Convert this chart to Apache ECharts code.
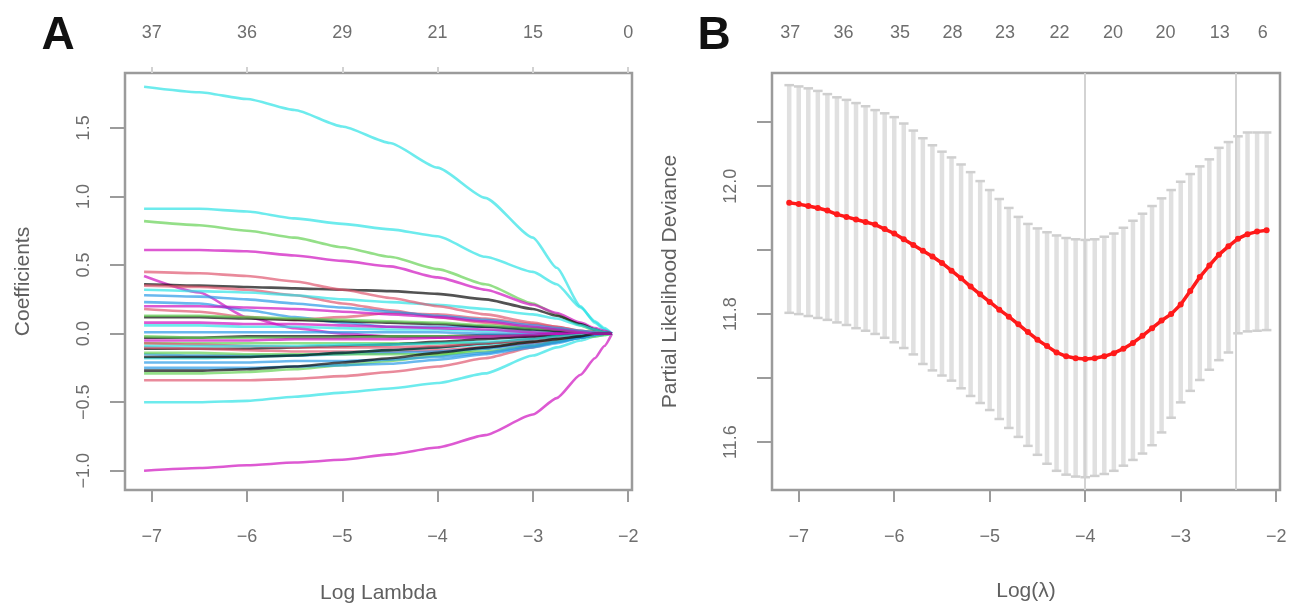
<!DOCTYPE html>
<html>
<head>
<meta charset="utf-8">
<script src="https://cdn.jsdelivr.net/npm/echarts@6/dist/echarts.min.js"></script>
<style>
  html, body { margin: 0; padding: 0; background: #ffffff; }
  #chart { width: 1297px; height: 611px; }
</style>
</head>
<body>
<div id="chart"></div>
<script>
// ---------- Panel A: lasso coefficient paths ----------
const pathLogLambda = [-7.08, -6.5, -6.0, -5.5, -5.0, -4.5, -4.0, -3.5, -3.0, -2.75, -2.5, -2.35, -2.25, -2.17];

const pathColors = [
  '#28E2E5', '#28E2E5', '#61D04F', '#CD0BBC', '#CD0BBC', '#28E2E5', '#DF536B', '#61D04F',
  '#CD0BBC', '#000000', '#DF536B', '#28E2E5', '#2297E6', '#DF536B', '#28E2E5', '#000000',
  '#61D04F', '#61D04F', '#000000', '#DF536B', '#2297E6', '#61D04F', '#2297E6', '#2297E6',
  '#2297E6', '#CD0BBC', '#000000', '#DF536B', '#61D04F', '#28E2E5', '#CD0BBC', '#000000',
  '#DF536B', '#2297E6', '#28E2E5', '#000000', '#CD0BBC'
];

const coefPaths = [
  [1.80, 1.76, 1.71, 1.63, 1.51, 1.39, 1.21, 0.99, 0.70, 0.48, 0.20, 0.08, 0.03, 0],
  [0.91, 0.91, 0.89, 0.84, 0.80, 0.76, 0.71, 0.56, 0.45, 0.36, 0.19, 0.09, 0.04, 0],
  [0.82, 0.79, 0.75, 0.70, 0.63, 0.56, 0.47, 0.36, 0.22, 0.14, 0.06, 0.02, 0.01, 0],
  [0.61, 0.61, 0.60, 0.57, 0.53, 0.49, 0.41, 0.32, 0.21, 0.15, 0.08, 0.04, 0.02, 0],
  [-1.00, -0.98, -0.96, -0.94, -0.92, -0.88, -0.83, -0.74, -0.59, -0.47, -0.30, -0.18, -0.09, 0],
  [-0.50, -0.50, -0.49, -0.46, -0.43, -0.40, -0.36, -0.29, -0.16, -0.10, -0.05, -0.02, -0.01, 0],
  [-0.34, -0.34, -0.34, -0.33, -0.31, -0.28, -0.24, -0.18, -0.10, -0.06, -0.02, -0.01, 0, 0],
  [-0.29, -0.29, -0.28, -0.26, -0.23, -0.20, -0.16, -0.11, -0.05, -0.03, -0.01, 0, 0, 0],
  [0.42, 0.30, 0.12, 0.04, 0.00, -0.02, -0.03, -0.03, -0.02, -0.01, 0, 0, 0, 0],
  [0.36, 0.35, 0.34, 0.33, 0.32, 0.31, 0.29, 0.25, 0.18, 0.13, 0.07, 0.03, 0.01, 0],
  [0.35, 0.34, 0.32, 0.28, 0.22, 0.17, 0.12, 0.08, 0.04, 0.02, 0.01, 0, 0, 0],
  [0.32, 0.31, 0.30, 0.28, 0.25, 0.23, 0.21, 0.18, 0.14, 0.11, 0.06, 0.03, 0.01, 0],
  [0.23, 0.22, 0.17, 0.12, 0.08, 0.05, 0.05, 0.05, 0.04, 0.03, 0.01, 0, 0, 0],
  [0.18, 0.16, 0.12, 0.10, 0.12, 0.15, 0.14, 0.11, 0.07, 0.05, 0.02, 0.01, 0, 0],
  [0.06, 0.06, 0.05, 0.05, 0.04, 0.03, 0.03, 0.02, 0.02, 0.01, 0.01, 0, 0, 0],
  [-0.03, -0.03, -0.02, -0.02, -0.02, -0.02, -0.02, -0.01, -0.01, 0, 0, 0, 0, 0],
  [-0.02, -0.03, -0.03, -0.03, -0.03, -0.02, -0.02, -0.02, -0.01, -0.01, 0, 0, 0, 0],
  [-0.07, -0.07, -0.07, -0.07, -0.07, -0.07, -0.07, -0.07, -0.06, -0.05, -0.03, -0.02, -0.01, 0],
  [-0.11, -0.11, -0.11, -0.10, -0.09, -0.08, -0.06, -0.04, -0.02, -0.01, 0, 0, 0, 0],
  [-0.10, -0.11, -0.12, -0.13, -0.13, -0.13, -0.12, -0.10, -0.07, -0.05, -0.03, -0.01, 0, 0],
  [-0.15, -0.16, -0.16, -0.16, -0.15, -0.14, -0.13, -0.11, -0.08, -0.06, -0.03, -0.01, 0, 0],
  [-0.14, -0.14, -0.15, -0.15, -0.15, -0.15, -0.15, -0.13, -0.09, -0.06, -0.03, -0.01, 0, 0],
  [-0.21, -0.21, -0.21, -0.20, -0.20, -0.19, -0.17, -0.14, -0.09, -0.06, -0.03, -0.01, 0, 0],
  [-0.25, -0.25, -0.25, -0.24, -0.23, -0.22, -0.19, -0.15, -0.10, -0.07, -0.03, -0.01, 0, 0],
  [0.01, 0.01, 0.01, 0.01, 0.01, 0.01, 0.01, 0, 0, 0, 0, 0, 0, 0],
  [0.08, 0.08, 0.07, 0.07, 0.06, 0.05, 0.04, 0.03, 0.01, 0, 0, 0, 0, 0],
  [0.12, 0.12, 0.11, 0.10, 0.09, 0.08, 0.07, 0.05, 0.03, 0.02, 0.01, 0, 0, 0],
  [0.45, 0.44, 0.42, 0.38, 0.32, 0.26, 0.20, 0.14, 0.08, 0.05, 0.02, 0.01, 0, 0],
  [0.13, 0.13, 0.12, 0.11, 0.10, 0.09, 0.08, 0.06, 0.04, 0.03, 0.01, 0, 0, 0],
  [-0.18, -0.18, -0.17, -0.16, -0.14, -0.12, -0.10, -0.08, -0.05, -0.03, -0.01, 0, 0, 0],
  [-0.05, -0.05, -0.05, -0.04, -0.04, -0.04, -0.03, -0.02, -0.01, 0, 0, 0, 0, 0],
  [-0.17, -0.17, -0.17, -0.16, -0.14, -0.12, -0.10, -0.07, -0.04, -0.02, -0.01, 0, 0, 0],
  [-0.07, -0.08, -0.09, -0.10, -0.10, -0.10, -0.09, -0.07, -0.05, -0.03, -0.01, 0, 0, 0],
  [0.28, 0.27, 0.25, 0.22, 0.19, 0.16, 0.13, 0.10, 0.06, 0.04, 0.02, 0.01, 0, 0],
  [-0.09, -0.09, -0.09, -0.09, -0.08, -0.08, -0.07, -0.06, -0.04, -0.02, -0.01, 0, 0, 0],
  [-0.27, -0.27, -0.26, -0.24, -0.21, -0.18, -0.14, -0.10, -0.06, -0.04, -0.02, 0, 0, 0],
  [0.20, 0.20, 0.19, 0.18, 0.16, 0.14, 0.12, 0.09, 0.05, 0.03, 0.01, 0, 0, 0]
];

const xTicks = [-7, -6, -5, -4, -3, -2];
const dfLabelsA = ['37', '36', '29', '21', '15', '0'];
const coefTicks = [-1.0, -0.5, 0.0, 0.5, 1.0, 1.5];

// ---------- Panel B: cross-validation curve ----------
const cvLogLambda = [
  -7.1, -7.0, -6.9, -6.8, -6.7, -6.6, -6.5, -6.4, -6.3, -6.2,
  -6.1, -6.0, -5.9, -5.8, -5.7, -5.6, -5.5, -5.4, -5.3, -5.2,
  -5.1, -5.0, -4.9, -4.8, -4.7, -4.6, -4.5, -4.4, -4.3, -4.2,
  -4.1, -4.0, -3.9, -3.8, -3.7, -3.6, -3.5, -3.4, -3.3, -3.2,
  -3.1, -3.0, -2.9, -2.8, -2.7, -2.6, -2.5, -2.4, -2.3, -2.2,
  -2.1
];
const cvMean = [
  11.974, 11.972, 11.969, 11.966, 11.962, 11.956, 11.952, 11.948, 11.944, 11.940,
  11.933, 11.926, 11.917, 11.908, 11.899, 11.890, 11.880, 11.868, 11.856, 11.843,
  11.831, 11.819, 11.807, 11.796, 11.784, 11.772, 11.760, 11.750, 11.740, 11.734,
  11.731, 11.730, 11.731, 11.734, 11.739, 11.746, 11.755, 11.766, 11.778, 11.790,
  11.800, 11.815, 11.836, 11.858, 11.876, 11.893, 11.906, 11.918, 11.925, 11.929,
  11.931
];
const cvUpper = [
  12.158, 12.156, 12.153, 12.149, 12.144, 12.139, 12.135, 12.130, 12.125, 12.119,
  12.114, 12.108, 12.098, 12.087, 12.075, 12.064, 12.054, 12.045, 12.034, 12.022,
  12.008, 11.994, 11.980, 11.966, 11.952, 11.941, 11.934, 11.928, 11.923, 11.919,
  11.917, 11.916, 11.917, 11.921, 11.926, 11.935, 11.946, 11.957, 11.969, 11.981,
  11.994, 12.007, 12.019, 12.031, 12.042, 12.060, 12.069, 12.078, 12.084, 12.084,
  12.084
];
const cvLower = [
  11.802, 11.800, 11.797, 11.794, 11.791, 11.787, 11.783, 11.778, 11.774, 11.769,
  11.763, 11.756, 11.747, 11.737, 11.722, 11.712, 11.704, 11.696, 11.684, 11.672,
  11.661, 11.650, 11.636, 11.622, 11.608, 11.594, 11.580, 11.566, 11.555, 11.549,
  11.546, 11.545, 11.547, 11.550, 11.555, 11.563, 11.572, 11.582, 11.595, 11.615,
  11.638, 11.662, 11.680, 11.697, 11.713, 11.728, 11.740, 11.770, 11.773, 11.774,
  11.775
];
const lambdaMin = -4.0;
const lambda1se = -2.42;
const nzeroPos = [-7.09, -6.53, -5.94, -5.39, -4.84, -4.27, -3.71, -3.16, -2.59, -2.14];
const nzeroLabels = ['37', '36', '35', '28', '23', '22', '20', '20', '13', '6'];
const devTicks = [11.6, 11.7, 11.8, 11.9, 12.0, 12.1];
const devLabels = [11.6, 11.8, 12.0];

// ---------- styling ----------
const FONT = '"Liberation Sans", Arial, Helvetica, sans-serif';
const frameGray = '#9b9b9b';
const tickText = '#6e6e6e';
const titleText = '#606060';
const TICK_FS = 18;
const TITLE_FS = 21;

function minusFmt(s) { return s.replace('-', '\u2212'); }
function fmtInt(v) { return minusFmt(String(Math.round(v))); }
function fmtOne(v) { return minusFmt((Math.abs(v) < 1e-9 ? 0 : v).toFixed(1)); }
function nearestLabel(positions, labels, v) {
  let best = 0;
  for (let i = 1; i < positions.length; i++) {
    if (Math.abs(positions[i] - v) < Math.abs(positions[best] - v)) best = i;
  }
  return labels[best];
}

const labelStyle = { fontSize: TICK_FS, color: tickText, fontFamily: FONT };
const nameStyle = { fontSize: TITLE_FS, color: titleText, fontFamily: FONT };

const xMin = -7.28, xMax = -1.96;
const hiddenLine = { show: false, onZero: false };

const chart = echarts.init(document.getElementById('chart'), null, { renderer: 'canvas' });

const pathSeries = coefPaths.map((vals, i) => ({
  type: 'line',
  xAxisIndex: 0,
  yAxisIndex: 0,
  data: pathLogLambda.map((x, j) => [x, vals[j]]),
  showSymbol: false,
  smooth: 0.2,
  smoothMonotone: 'x',
  silent: true,
  lineStyle: { color: pathColors[i], width: 2.6, opacity: 0.68 },
  z: 2
}));

const option = {
  backgroundColor: '#ffffff',
  animation: false,
  grid: [
    { left: 125, top: 73, width: 507, height: 417, show: true, borderColor: frameGray, borderWidth: 2.5, backgroundColor: 'transparent' },
    { left: 772, top: 73, width: 508, height: 417, show: true, borderColor: frameGray, borderWidth: 2.5, backgroundColor: 'transparent' }
  ],
  xAxis: [
    {
      gridIndex: 0, type: 'value', position: 'bottom', min: xMin, max: xMax,
      axisLine: hiddenLine, splitLine: { show: false },
      axisTick: { show: true, customValues: xTicks, length: 12, lineStyle: { color: frameGray, width: 2 } },
      axisLabel: Object.assign({ customValues: xTicks, formatter: fmtInt, margin: 38 }, labelStyle),
      name: 'Log Lambda', nameLocation: 'middle', nameGap: 93, nameTextStyle: nameStyle
    },
    {
      gridIndex: 0, type: 'value', position: 'top', min: xMin, max: xMax,
      axisLine: hiddenLine, splitLine: { show: false },
      axisTick: { show: true, customValues: xTicks, length: 6, lineStyle: { color: '#d2d2d2', width: 2 } },
      axisLabel: Object.assign({ customValues: xTicks, margin: 31,
        formatter: v => nearestLabel(xTicks, dfLabelsA, v) }, labelStyle)
    },
    {
      gridIndex: 1, type: 'value', position: 'bottom', min: xMin, max: xMax,
      axisLine: hiddenLine, splitLine: { show: false },
      axisTick: { show: true, customValues: xTicks, length: 12, lineStyle: { color: frameGray, width: 2 } },
      axisLabel: Object.assign({ customValues: xTicks, formatter: fmtInt, margin: 38 }, labelStyle),
      name: 'Log(\u03bb)', nameLocation: 'middle', nameGap: 91, nameTextStyle: nameStyle
    },
    {
      gridIndex: 1, type: 'value', position: 'top', min: xMin, max: xMax,
      axisLine: hiddenLine, splitLine: { show: false },
      axisTick: { show: false },
      axisLabel: Object.assign({ customValues: nzeroPos, margin: 31,
        formatter: v => nearestLabel(nzeroPos, nzeroLabels, v) }, labelStyle)
    }
  ],
  yAxis: [
    {
      gridIndex: 0, type: 'value', min: -1.14, max: 1.90,
      axisLine: hiddenLine, splitLine: { show: false },
      axisTick: { show: true, customValues: coefTicks, length: 15, lineStyle: { color: frameGray, width: 2 } },
      axisLabel: Object.assign({ customValues: coefTicks, formatter: fmtOne, rotate: 90, margin: 32 }, labelStyle),
      name: 'Coefficients', nameLocation: 'middle', nameGap: 91, nameRotate: 90, nameTextStyle: nameStyle
    },
    {
      gridIndex: 1, type: 'value', min: 11.525, max: 12.177,
      axisLine: hiddenLine, splitLine: { show: false },
      axisTick: { show: true, customValues: devTicks, length: 15, lineStyle: { color: frameGray, width: 2 } },
      axisLabel: Object.assign({ customValues: devLabels, formatter: fmtOne, rotate: 90, margin: 32 }, labelStyle),
      name: 'Partial Likelihood Deviance', nameLocation: 'middle', nameGap: 91, nameRotate: 90, nameTextStyle: nameStyle
    }
  ],
  graphic: [
    { type: 'text', x: 58, y: 36, style: { text: 'A', font: 'bold 46px "Liberation Sans", Arial, sans-serif', fill: '#111', align: 'center', verticalAlign: 'middle' } },
    { type: 'text', x: 714, y: 36, style: { text: 'B', font: 'bold 46px "Liberation Sans", Arial, sans-serif', fill: '#111', align: 'center', verticalAlign: 'middle' } }
  ],
  series: pathSeries.concat([
    {
      type: 'custom',
      xAxisIndex: 2,
      yAxisIndex: 1,
      silent: true,
      data: cvLogLambda.map((x, i) => [x, cvLower[i], cvUpper[i]]),
      encode: { x: 0, y: [1, 2] },
      renderItem: function (params, api) {
        const x = api.value(0);
        const lo = api.coord([x, api.value(1)]);
        const hi = api.coord([x, api.value(2)]);
        const capL = api.coord([x - 0.05, api.value(2)])[0];
        const capR = api.coord([x + 0.05, api.value(2)])[0];
        const stroke = { stroke: '#e0e0e0', lineWidth: 4.5 };
        const capStroke = { stroke: '#cfcfcf', lineWidth: 2.5 };
        return {
          type: 'group',
          children: [
            { type: 'line', shape: { x1: lo[0], y1: lo[1], x2: hi[0], y2: hi[1] }, style: stroke },
            { type: 'line', shape: { x1: capL, y1: hi[1], x2: capR, y2: hi[1] }, style: capStroke },
            { type: 'line', shape: { x1: capL, y1: lo[1], x2: capR, y2: lo[1] }, style: capStroke }
          ]
        };
      },
      markLine: {
        silent: true,
        symbol: 'none',
        label: { show: false },
        lineStyle: { color: '#d3d3d3', width: 2, type: 'solid' },
        data: [{ xAxis: lambdaMin }, { xAxis: lambda1se }]
      },
      z: 2
    },
    {
      type: 'line',
      xAxisIndex: 2,
      yAxisIndex: 1,
      data: cvLogLambda.map((x, i) => [x, cvMean[i]]),
      symbol: 'circle',
      symbolSize: 6,
      showSymbol: true,
      silent: true,
      itemStyle: { color: '#ff1a1a' },
      lineStyle: { color: '#ff1a1a', width: 3.5 },
      z: 5
    }
  ])
};

chart.setOption(option);
</script>
</body>
</html>
